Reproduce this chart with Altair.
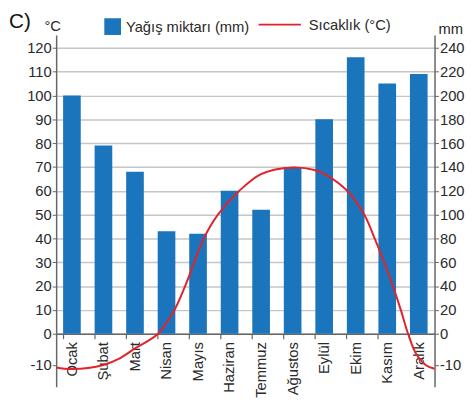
import altair as alt
import pandas as pd

# ---- data ----
months = ["Ocak", "Şubat", "Mart", "Nisan", "Mayıs", "Haziran",
          "Temmuz", "Ağustos", "Eylül", "Ekim", "Kasım", "Aralık"]
rain_mm = [200, 158, 136, 86, 84, 120, 104, 140, 180, 232, 210, 218]

# temperature curve: position along the month axis (0 = left edge, 12 = right edge)
temp_pos = [0.0, 0.5, 1.5, 2.0, 2.5, 3.23, 3.75, 4.09, 4.38, 4.68, 5.13, 5.81, 6.5, 7.5,
            8.2, 8.6, 9.23, 9.77, 10.10, 10.40, 10.68, 10.93, 11.16, 11.42, 11.73, 12.0]
temp_c = [-10.8, -11.3, -10.0, -8.0, -4.7, 0.0, 10.0, 20.0, 30.0, 40.0, 50.0, 60.0, 67.0, 69.8,
          68.7, 66.4, 60.0, 50.0, 40.0, 30.0, 20.0, 10.0, 0.0, -6.5, -10.1, -11.2]

left_ticks = list(range(-10, 121, 10))
right_ticks = list(range(-20, 241, 20))

RAIN_NAME = "Yağış miktarı (mm)"
TEMP_NAME = "Sıcaklık (°C)"

W, H = 385, 358
ZERO_Y = 304
FONT = "Liberation Sans"
BLUE = "#1b75bc"
RED = "#e2232b"
AXIS_COL = "#666666"
TXT = "#2a2a2a"

bars_df = pd.DataFrame({"Ay": months, "Yağış": rain_mm, "seri": [RAIN_NAME] * len(months)})
temp_df = pd.DataFrame({"pos": temp_pos, "Sıcaklık": temp_c, "seri": [TEMP_NAME] * len(temp_pos)})
title_df = pd.DataFrame({"t": ["C)"]})

bars = alt.Chart(bars_df).mark_bar().encode(
    x=alt.X("Ay:N", sort=months, title=None,
            scale=alt.Scale(paddingInner=0.44, paddingOuter=0.22),
            axis=alt.Axis(labelAngle=270, bandPosition=0, offset=-(H - ZERO_Y),
                          labelFontSize=15, labelColor=TXT, labelPadding=3,
                          tickSize=5, tickColor=AXIS_COL, tickWidth=1.2,
                          domainColor=AXIS_COL, domainWidth=1.5, grid=False)),
    y=alt.Y("Yağış:Q",
            scale=alt.Scale(domain=[-34, 0, 250.8], range=[H, ZERO_Y, 0], nice=False, zero=False),
            axis=alt.Axis(orient="right", values=right_ticks, grid=False,
                          labelExpr="datum.value == -20 ? '-10' : datum.label",
                          labelFontSize=15, labelColor=TXT, labelPadding=1,
                          tickSize=4, tickColor=AXIS_COL, domainColor=AXIS_COL, domainWidth=1.5,
                          title="mm", titleAngle=0, titleX=16, titleY=-6,
                          titleAlign="center", titleBaseline="middle",
                          titleFontSize=15, titleFontWeight="normal", titleColor=TXT)),
    color=alt.Color("seri:N",
                    scale=alt.Scale(domain=[RAIN_NAME], range=[BLUE]),
                    legend=alt.Legend(orient="none", legendX=49, legendY=-17, title=None,
                                      symbolType="square", symbolSize=289, symbolStrokeWidth=0,
                                      symbolOpacity=1,
                                      labelFontSize=15, labelColor=TXT, labelOffset=5, padding=0)),
)

line = alt.Chart(temp_df).mark_line(strokeWidth=2, interpolate="catmull-rom").encode(
    x=alt.X("pos:Q", scale=alt.Scale(domain=[0, 12], nice=False, zero=False), axis=None),
    y=alt.Y("Sıcaklık:Q",
            scale=alt.Scale(domain=[-17, 0, 125.4], range=[H, ZERO_Y, 0], nice=False, zero=False),
            axis=alt.Axis(orient="left", values=left_ticks, grid=True,
                          labelExpr="datum.value == -10 ? '-10' : datum.label",
                          gridColor=alt.condition("datum.value < 0", alt.value("transparent"), alt.value("#c6c6c6")),
                          gridWidth=1.5,
                          labelFontSize=15, labelColor=TXT, labelPadding=1,
                          tickSize=4, tickColor=AXIS_COL, domainColor=AXIS_COL, domainWidth=1.5,
                          title="°C", titleAngle=0, titleX=-4, titleY=-10,
                          titleAlign="center", titleBaseline="middle",
                          titleFontSize=15, titleFontWeight="normal", titleColor=TXT)),
    stroke=alt.Stroke("seri:N",
                      scale=alt.Scale(domain=[TEMP_NAME], range=[RED]),
                      legend=alt.Legend(orient="none", legendX=205, legendY=-33, title=None,
                                        symbolType="stroke", symbolSize=1849, symbolStrokeWidth=2,
                                        labelFontSize=15, labelColor=TXT, labelOffset=7, padding=0)),
)

label = alt.Chart(title_df).mark_text(align="left", baseline="top", fontSize=21, font=FONT, color="#111").encode(
    text="t:N", x=alt.value(-48), y=alt.value(-24)
)

chart = alt.layer(bars, line, label).resolve_scale(
    x="independent", y="independent"
).properties(
    width=W, height=H,
    autosize=alt.AutoSizeParams(type="none"),
    padding={"left": 49, "top": 24, "right": 31, "bottom": 10},
).configure_axis(
    labelFont=FONT, titleFont=FONT
).configure_legend(
    labelFont=FONT
).configure_view(stroke=None)

chart.save("out.html", embed_options={"renderer": "svg", "actions": False})
